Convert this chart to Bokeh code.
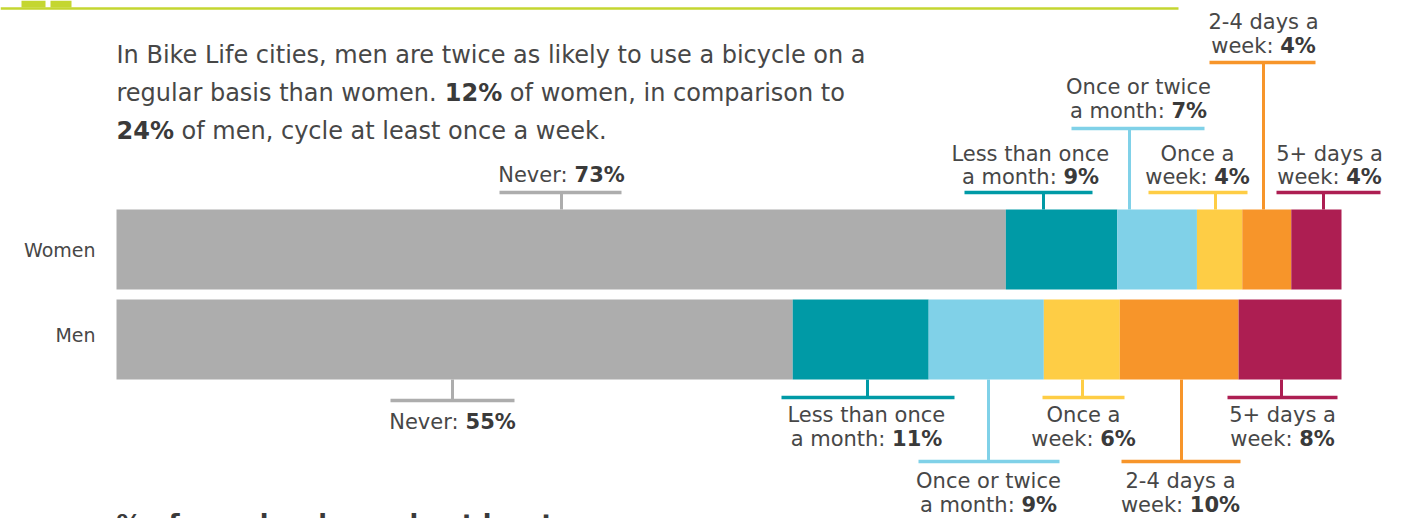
from bokeh.plotting import figure
from bokeh.models import Range1d
from bokeh.core.properties import value
from bokeh.embed import file_html
from bokeh.resources import INLINE

# ---------------- data ----------------
groups = ["Women", "Men"]
categories = ["Never", "Less than once a month", "Once or twice a month",
              "Once a week", "2-4 days a week", "5+ days a week"]
women = [72.6, 9.1, 6.5, 3.7, 4.0, 4.1]          # bar shares (%)
men = [55.2, 11.1, 9.4, 6.2, 9.7, 8.4]
women_labels = [73, 9, 7, 4, 4, 4]                # printed values (%)
men_labels = [55, 11, 9, 6, 10, 8]
label_lines = [["Never:"], ["Less than once", "a month:"], ["Once or twice", "a month:"],
               ["Once a", "week:"], ["2-4 days a", "week:"], ["5+ days a", "week:"]]
colors = ["#ADADAD", "#009AA6", "#80D1E8", "#FECD45", "#F7952A", "#AD1E52"]

title_lines = [
    [("In Bike Life cities, men are twice as likely to use a bicycle on a", False)],
    [("regular basis than women. ", False), ("12%", True), (" of women, in comparison to", False)],
    [("24%", True), (" of men, cycle at least once a week.", False)],
]
next_heading = "% of people who cycle at least once a"

# ---------------- layout (pixels) ----------------
W, H = 1418, 518
X0 = 116.0      # pixel of 0 %
PX = 12.25      # pixels per 1 %
def px2x(px):
    return (px - X0) / PX

bar_center = {"Women": 249, "Men": 339}
bar_h = 80
women_layout = [
    dict(cx=561, bl=499, br=621, by=192, sx=561, base=[182]),
    dict(cx=1030, bl=964, br=1092, by=192, sx=1043, base=[161, 184]),
    dict(cx=1138, bl=1071, br=1204, by=128, sx=1129, base=[94, 118]),
    dict(cx=1197, bl=1148, br=1247, by=192, sx=1215, base=[161, 184]),
    dict(cx=1263, bl=1209, br=1315, by=62, sx=1263, base=[29, 53]),
    dict(cx=1329, bl=1276, br=1380, by=192, sx=1323, base=[161, 184]),
]
men_layout = [
    dict(cx=452, bl=390, br=514, by=400, sx=452, base=[429]),
    dict(cx=866, bl=781, br=954, by=397, sx=867, base=[422, 446]),
    dict(cx=988, bl=918, br=1059, by=461, sx=988, base=[488, 512]),
    dict(cx=1083, bl=1042, br=1124, by=397, sx=1082, base=[422, 446]),
    dict(cx=1180, bl=1121, br=1240, by=461, sx=1181, base=[488, 512]),
    dict(cx=1282, bl=1227, br=1337, by=397, sx=1281, base=[422, 446]),
]

FONT = "DejaVu Sans"
TXT = "#474747"
TXTB = "#3a3a3a"
GREEN = "#C4D631"
BASE_SHIFT = 0.38   # correction of the rendered alphabetic baseline (em)

# DejaVu Sans advance widths (units of 1/2048 em)
DV = {' ': 651, '%': 1946, '+': 1716, ',': 651, '-': 739, '.': 651, ':': 690,
      'B': 1405, 'I': 604, 'L': 1141, 'M': 1767, 'N': 1532, 'O': 1612, 'W': 2025,
      'a': 1255, 'b': 1300, 'c': 1126, 'd': 1300, 'e': 1260, 'f': 721, 'g': 1300,
      'h': 1298, 'i': 569, 'k': 1186, 'l': 569, 'm': 1995, 'n': 1298, 'o': 1253,
      'p': 1300, 'r': 842, 's': 1067, 't': 803, 'u': 1298, 'v': 1212, 'w': 1675,
      'y': 1212}
for d in "0123456789":
    DV[d] = 1303
DVB = {' ': 713, '%': 2052, ':': 819}
for d in "0123456789":
    DVB[d] = 1425

def tw(s, bold, size):
    table = DVB if bold else DV
    return sum(table.get(ch, 1250) for ch in s) / 2048.0 * size

# ---------------- figure ----------------
p = figure(width=W, height=H, output_backend="svg", toolbar_location=None,
           x_range=Range1d(px2x(0), px2x(W)), y_range=Range1d(H, 0),
           min_border=0, min_border_left=0, min_border_right=0,
           min_border_top=0, min_border_bottom=0)
p.axis.visible = False
p.grid.visible = False
p.outline_line_color = None
p.background_fill_color = "white"
p.border_fill_color = "white"

# header decoration
p.segment(x0=[px2x(0)], y0=[8], x1=[px2x(1178)], y1=[8], line_width=2.5, line_color=GREEN)
p.quad(left=[px2x(21), px2x(50)], right=[px2x(45), px2x(71)], top=[0, 0], bottom=[7, 7],
       fill_color=GREEN, line_color=None)

# stacked bars
for g, vals in zip(groups, [women, men]):
    left, right = [], []
    acc = 0.0
    for v in vals:
        left.append(acc)
        acc += v
        right.append(acc)
    p.hbar(y=[bar_center[g]] * len(vals), left=left, right=right, height=bar_h,
           fill_color=colors, line_color=None)

# text collectors
txt = {}
def add_text(x, y, s, bold, size, align="left", shift=True):
    key = (bold, size, align)
    txt.setdefault(key, ([], [], []))
    txt[key][0].append(x)
    txt[key][1].append(y - (BASE_SHIFT * size if shift else 0))
    txt[key][2].append(s)

def add_rich_line(parts, x_left, y, size):
    x = x_left
    for s, b in parts:
        lead = len(s) - len(s.lstrip(" "))
        xs = x + tw(s[:lead], b, size)
        add_text(px2x(xs), y, s.strip(" "), b, size)
        x += tw(s, b, size)

def add_centered(parts, cx, y, size):
    total = sum(tw(s, b, size) for s, b in parts)
    add_rich_line(parts, cx - total / 2.0, y, size)

# title
for i, parts in enumerate(title_lines):
    add_rich_line(parts, 116, 64 + 38 * i, 24)

# group labels
add_text(px2x(95), 257, groups[0], False, 19, "right")
add_text(px2x(95), 342, groups[1], False, 19, "right")

# callouts
LS = 21
for g, layout, labels, edge in [("Women", women_layout, women_labels, bar_center["Women"] - bar_h / 2),
                                ("Men", men_layout, men_labels, bar_center["Men"] + bar_h / 2)]:
    for k, lay in enumerate(layout):
        c = colors[k]
        p.segment(x0=[px2x(lay["bl"])], y0=[lay["by"]], x1=[px2x(lay["br"])], y1=[lay["by"]],
                  line_width=3.5, line_color=c)
        p.segment(x0=[px2x(lay["sx"])], y0=[lay["by"]], x1=[px2x(lay["sx"])], y1=[edge],
                  line_width=3, line_color=c)
        lines = label_lines[k]
        for j, ln in enumerate(lines):
            if j == len(lines) - 1:
                parts = [(ln + " ", False), ("%d%%" % labels[k], True)]
            else:
                parts = [(ln, False)]
            add_centered(parts, lay["cx"], lay["base"][j], LS)

# cut-off next heading (only its top shows, as in the source)
add_text(px2x(116), 522, next_heading, True, 25.5, shift=False)

for (bold, size, align), (xs, ys, ss) in txt.items():
    p.text(x=xs, y=ys, text=ss, text_font=value(FONT), text_font_size=value("%gpx" % size),
           text_font_style="bold" if bold else "normal", text_align=align,
           text_baseline="alphabetic", text_color=TXTB if bold else TXT)

open("out.html", "w").write(file_html(p, INLINE))
